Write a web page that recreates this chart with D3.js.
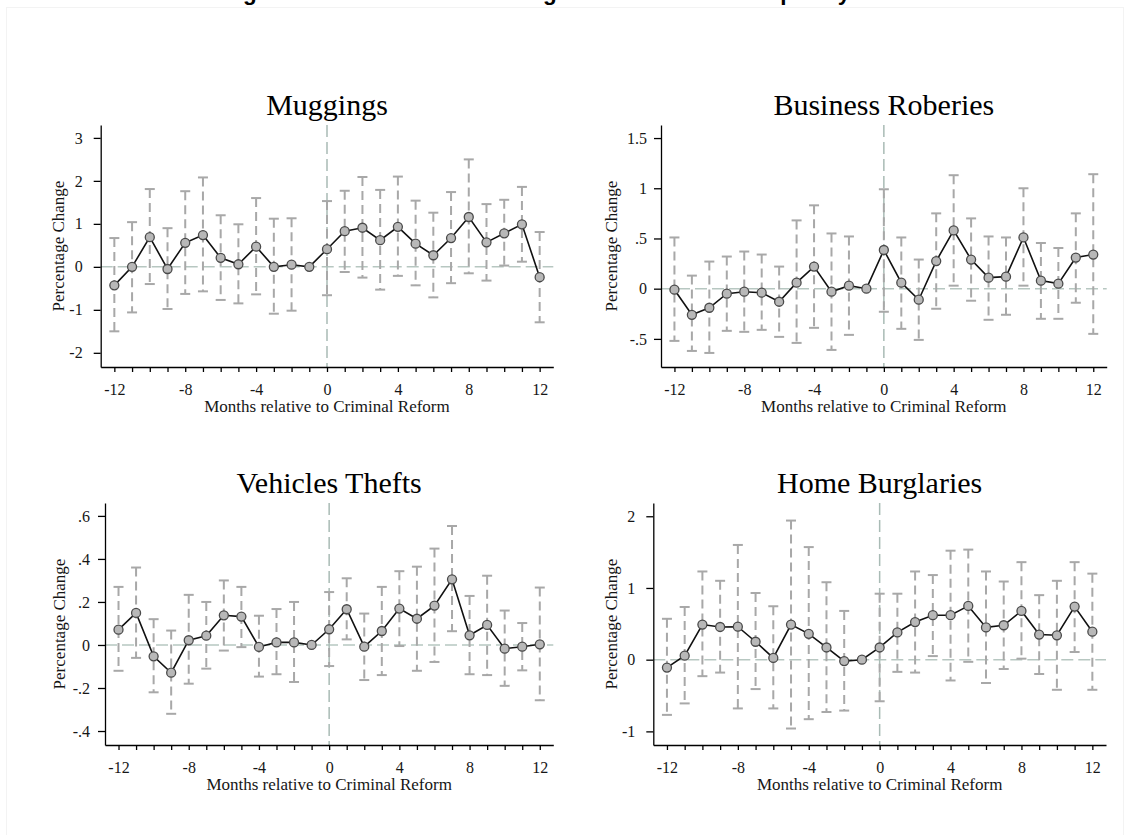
<!DOCTYPE html>
<html>
<head>
<meta charset="utf-8">
<script src="https://cdn.jsdelivr.net/npm/d3@7"></script>
<style>
  body { margin: 0; background: #fff; }
  svg { display: block; }
</style>
</head>
<body>
<svg id="chart" width="1130" height="835"></svg>
<script>
// Event-study estimates: monthly crime changes around the criminal reform (4 panels).
// Each panel: point estimates joined by a line, dashed 95% CI caps, month -1 is the base.

const MONTHS = [-12, -11, -10, -9, -8, -7, -6, -5, -4, -3, -2, -1, 0, 1, 2, 3, 4, 5, 6, 7, 8, 9, 10, 11, 12];
const X_TICK_LABELS = [-12, -8, -4, 0, 4, 8, 12];

// Muggings
const muggingsCoef = [-0.43, 0.00, 0.69, -0.05, 0.56, 0.74, 0.21, 0.06, 0.47, 0.00, 0.05, 0.00, 0.41, 0.83, 0.91, 0.62, 0.93, 0.54, 0.27, 0.67, 1.16, 0.57, 0.78, 0.99, -0.24];
const muggingsLo   = [-1.50, -1.06, -0.40, -0.98, -0.63, -0.57, -0.77, -0.85, -0.64, -1.09, -1.02, null, -0.66, -0.12, -0.25, -0.53, -0.21, -0.43, -0.71, -0.38, -0.15, -0.32, 0.03, 0.12, -1.29];
const muggingsHi   = [0.67, 1.04, 1.81, 0.90, 1.76, 2.08, 1.20, 0.99, 1.60, 1.12, 1.13, null, 1.53, 1.77, 2.09, 1.79, 2.10, 1.54, 1.26, 1.74, 2.50, 1.46, 1.56, 1.86, 0.81];
const muggingsTicks = [-2, -1, 0, 1, 2, 3];

// Business robberies
const robberiesCoef = [-0.01, -0.26, -0.19, -0.05, -0.03, -0.04, -0.13, 0.06, 0.22, -0.03, 0.03, 0.00, 0.385, 0.06, -0.11, 0.275, 0.58, 0.29, 0.11, 0.12, 0.51, 0.08, 0.05, 0.31, 0.34];
const robberiesLo   = [-0.52, -0.62, -0.64, -0.42, -0.43, -0.41, -0.48, -0.54, -0.39, -0.61, -0.46, null, -0.23, -0.40, -0.51, -0.20, 0.03, -0.12, -0.31, -0.26, 0.03, -0.30, -0.30, -0.14, -0.45];
const robberiesHi   = [0.51, 0.13, 0.27, 0.32, 0.37, 0.34, 0.22, 0.68, 0.83, 0.55, 0.52, null, 0.99, 0.51, 0.29, 0.75, 1.13, 0.70, 0.52, 0.51, 1.00, 0.455, 0.405, 0.75, 1.14];
const robberiesTicks = [-0.5, 0, 0.5, 1, 1.5];

// Vehicle thefts
const vehiclesCoef = [0.071, 0.149, -0.053, -0.129, 0.022, 0.043, 0.138, 0.132, -0.009, 0.012, 0.012, 0.000, 0.073, 0.166, -0.008, 0.065, 0.169, 0.122, 0.183, 0.305, 0.045, 0.093, -0.017, -0.008, 0.003];
const vehiclesLo   = [-0.12, -0.06, -0.22, -0.32, -0.18, -0.11, -0.026, -0.01, -0.147, -0.136, -0.172, null, -0.098, 0.026, -0.163, -0.14, -0.005, -0.12, -0.079, 0.064, -0.136, -0.14, -0.19, -0.118, -0.257];
const vehiclesHi   = [0.27, 0.36, 0.12, 0.067, 0.233, 0.20, 0.30, 0.27, 0.136, 0.167, 0.20, null, 0.246, 0.31, 0.146, 0.27, 0.343, 0.364, 0.448, 0.553, 0.228, 0.322, 0.16, 0.102, 0.267];
const vehiclesTicks = [-0.4, -0.2, 0, 0.2, 0.4, 0.6];

// Home burglaries
const burglariesCoef = [-0.11, 0.056, 0.49, 0.456, 0.46, 0.25, 0.024, 0.49, 0.36, 0.17, -0.02, 0.00, 0.17, 0.38, 0.525, 0.62, 0.62, 0.75, 0.45, 0.48, 0.68, 0.35, 0.34, 0.74, 0.39];
const burglariesLo   = [-0.77, -0.61, -0.23, -0.18, -0.68, -0.41, -0.68, -0.96, -0.83, -0.73, -0.71, null, -0.58, -0.17, -0.18, 0.05, -0.29, -0.03, -0.325, -0.13, 0.014, -0.20, -0.42, 0.107, -0.42];
const burglariesHi   = [0.57, 0.735, 1.23, 1.10, 1.60, 0.93, 0.745, 1.94, 1.57, 1.08, 0.68, null, 0.92, 0.92, 1.23, 1.18, 1.52, 1.535, 1.23, 1.09, 1.36, 0.90, 1.10, 1.36, 1.20];
const burglariesTicks = [-1, 0, 1, 2];

const PANEL_TITLES = ["Muggings", "Business Roberies", "Vehicles Thefts", "Home Burglaries"];
const Y_LABEL = "Percentage Change";
const X_LABEL = "Months relative to Criminal Reform";
const FIG_TITLE = "Figure 4: Relative Crime Changes after Reform: Temporary Effects";

const SERIF = "'Liberation Serif', 'Times New Roman', serif";
const TXT = "#161616";

// Plot-region geometry for each panel (pixel frame of the axes)
const panels = [
  { title: PANEL_TITLES[0], coef: muggingsCoef, lo: muggingsLo, hi: muggingsHi, ticks: muggingsTicks,
    yDomain: [-2.33, 3.30], left: 100.7, right: 553.3, top: 125, bottom: 367, yLabelX: 64, yPad: 11 },
  { title: PANEL_TITLES[1], coef: robberiesCoef, lo: robberiesLo, hi: robberiesHi, ticks: robberiesTicks,
    yDomain: [-0.78, 1.63], left: 661, right: 1106.7, top: 125, bottom: 367, yLabelX: 617, yPad: 7 },
  { title: PANEL_TITLES[2], coef: vehiclesCoef, lo: vehiclesLo, hi: vehiclesHi, ticks: vehiclesTicks,
    yDomain: [-0.465, 0.66], left: 105, right: 553.3, top: 503, bottom: 745, yLabelX: 65, yPad: 8 },
  { title: PANEL_TITLES[3], coef: burglariesCoef, lo: burglariesLo, hi: burglariesHi, ticks: burglariesTicks,
    yDomain: [-1.19, 2.185], left: 653.3, right: 1106, top: 503, bottom: 745, yLabelX: 617, yPad: 11 },
];

// Stata-style numbers: ".5", "-.2" (no leading zero)
const stataFmt = (v) => String(+v.toFixed(2)).replace(/^(-?)0\./, "$1.");

const svg = d3.select("#chart");
svg.append("rect").attr("width", 1130).attr("height", 835).attr("fill", "#fff");

// faint frame of the exported graph + figure title cut at the top edge (only descenders show)
svg.append("rect").attr("x", 6.5).attr("y", 7.5).attr("width", 1117).attr("height", 840)
  .attr("fill", "none").attr("stroke", "#f3f3f3").attr("stroke-width", 1);
svg.append("text").attr("x", 223).attr("y", 0)
  .style("font-family", "'Liberation Sans', Arial, sans-serif").style("font-weight", "bold")
  .style("font-size", "22.5px").style("fill", "#000")
  .text(FIG_TITLE);

panels.forEach((p) => {
  const x = d3.scaleLinear().domain([-12.77, 12.77]).range([p.left, p.right]);
  const y = d3.scaleLinear().domain(p.yDomain).range([p.bottom, p.top]);
  const g = svg.append("g");
  const rows = MONTHS.map((m, i) => ({ m, b: p.coef[i], lo: p.lo[i], hi: p.hi[i] }));

  // reference lines: y = 0 and month 0
  g.append("line")
    .attr("x1", p.left).attr("x2", p.right).attr("y1", y(0)).attr("y2", y(0))
    .attr("stroke", "#b7c7c1").attr("stroke-width", 1.5).attr("stroke-dasharray", "12,5");
  g.append("line")
    .attr("x1", x(0)).attr("x2", x(0)).attr("y1", p.top).attr("y2", p.bottom)
    .attr("stroke", "#a9bbb5").attr("stroke-width", 1.5).attr("stroke-dasharray", "12,5");

  // confidence intervals: dashed stems with caps
  const ci = rows.filter((d) => d.lo !== null);
  g.selectAll(".stem").data(ci).enter().append("line")
    .attr("x1", (d) => x(d.m)).attr("x2", (d) => x(d.m))
    .attr("y1", (d) => y(d.hi)).attr("y2", (d) => y(d.lo))
    .attr("stroke", "#a8a8a8").attr("stroke-width", 2).attr("stroke-dasharray", "9,5");
  ["hi", "lo"].forEach((k) => {
    g.selectAll(".cap-" + k).data(ci).enter().append("line")
      .attr("x1", (d) => x(d.m) - 5).attr("x2", (d) => x(d.m) + 5)
      .attr("y1", (d) => y(d[k])).attr("y2", (d) => y(d[k]))
      .attr("stroke", "#a8a8a8").attr("stroke-width", 2);
  });

  // axes
  const xAxis = d3.axisBottom(x).tickValues(MONTHS).tickSize(5).tickSizeOuter(0).tickPadding(11.5)
    .tickFormat((m) => (X_TICK_LABELS.includes(m) ? String(m) : ""));
  const yAxis = d3.axisLeft(y).tickValues(p.ticks).tickSize(7).tickSizeOuter(0).tickPadding(p.yPad)
    .tickFormat(stataFmt);
  [[xAxis, `translate(0,${p.bottom})`], [yAxis, `translate(${p.left},0)`]].forEach(([ax, tr]) => {
    const a = g.append("g").attr("transform", tr).call(ax);
    a.selectAll("path, line").attr("stroke", "#000").attr("stroke-width", 1.3);
    a.selectAll("text").style("font-family", SERIF).style("font-size", "16px").style("fill", TXT);
  });

  // connected estimates
  const line = d3.line().x((d) => x(d.m)).y((d) => y(d.b));
  g.append("path").datum(rows)
    .attr("fill", "none").attr("stroke", "#111").attr("stroke-width", 1.6).attr("d", line);
  g.selectAll(".dot").data(rows).enter().append("circle")
    .attr("cx", (d) => x(d.m)).attr("cy", (d) => y(d.b)).attr("r", 4.5)
    .attr("fill", "#b8b8b8").attr("stroke", "#4a4a4a").attr("stroke-width", 1.3);

  // titles and axis labels
  g.append("text").attr("x", (p.left + p.right) / 2).attr("y", p.top - 10)
    .attr("text-anchor", "middle").style("font-family", SERIF).style("font-size", "30px")
    .style("fill", "#000").text(p.title);
  g.append("text").attr("x", (p.left + p.right) / 2).attr("y", p.bottom + 45)
    .attr("text-anchor", "middle").style("font-family", SERIF).style("font-size", "17px")
    .style("fill", TXT).text(X_LABEL);
  g.append("text").attr("transform", `translate(${p.yLabelX},${(p.top + p.bottom) / 2}) rotate(-90)`)
    .attr("text-anchor", "middle").style("font-family", SERIF).style("font-size", "17px")
    .style("fill", TXT).text(Y_LABEL);
});
</script>
</body>
</html>
